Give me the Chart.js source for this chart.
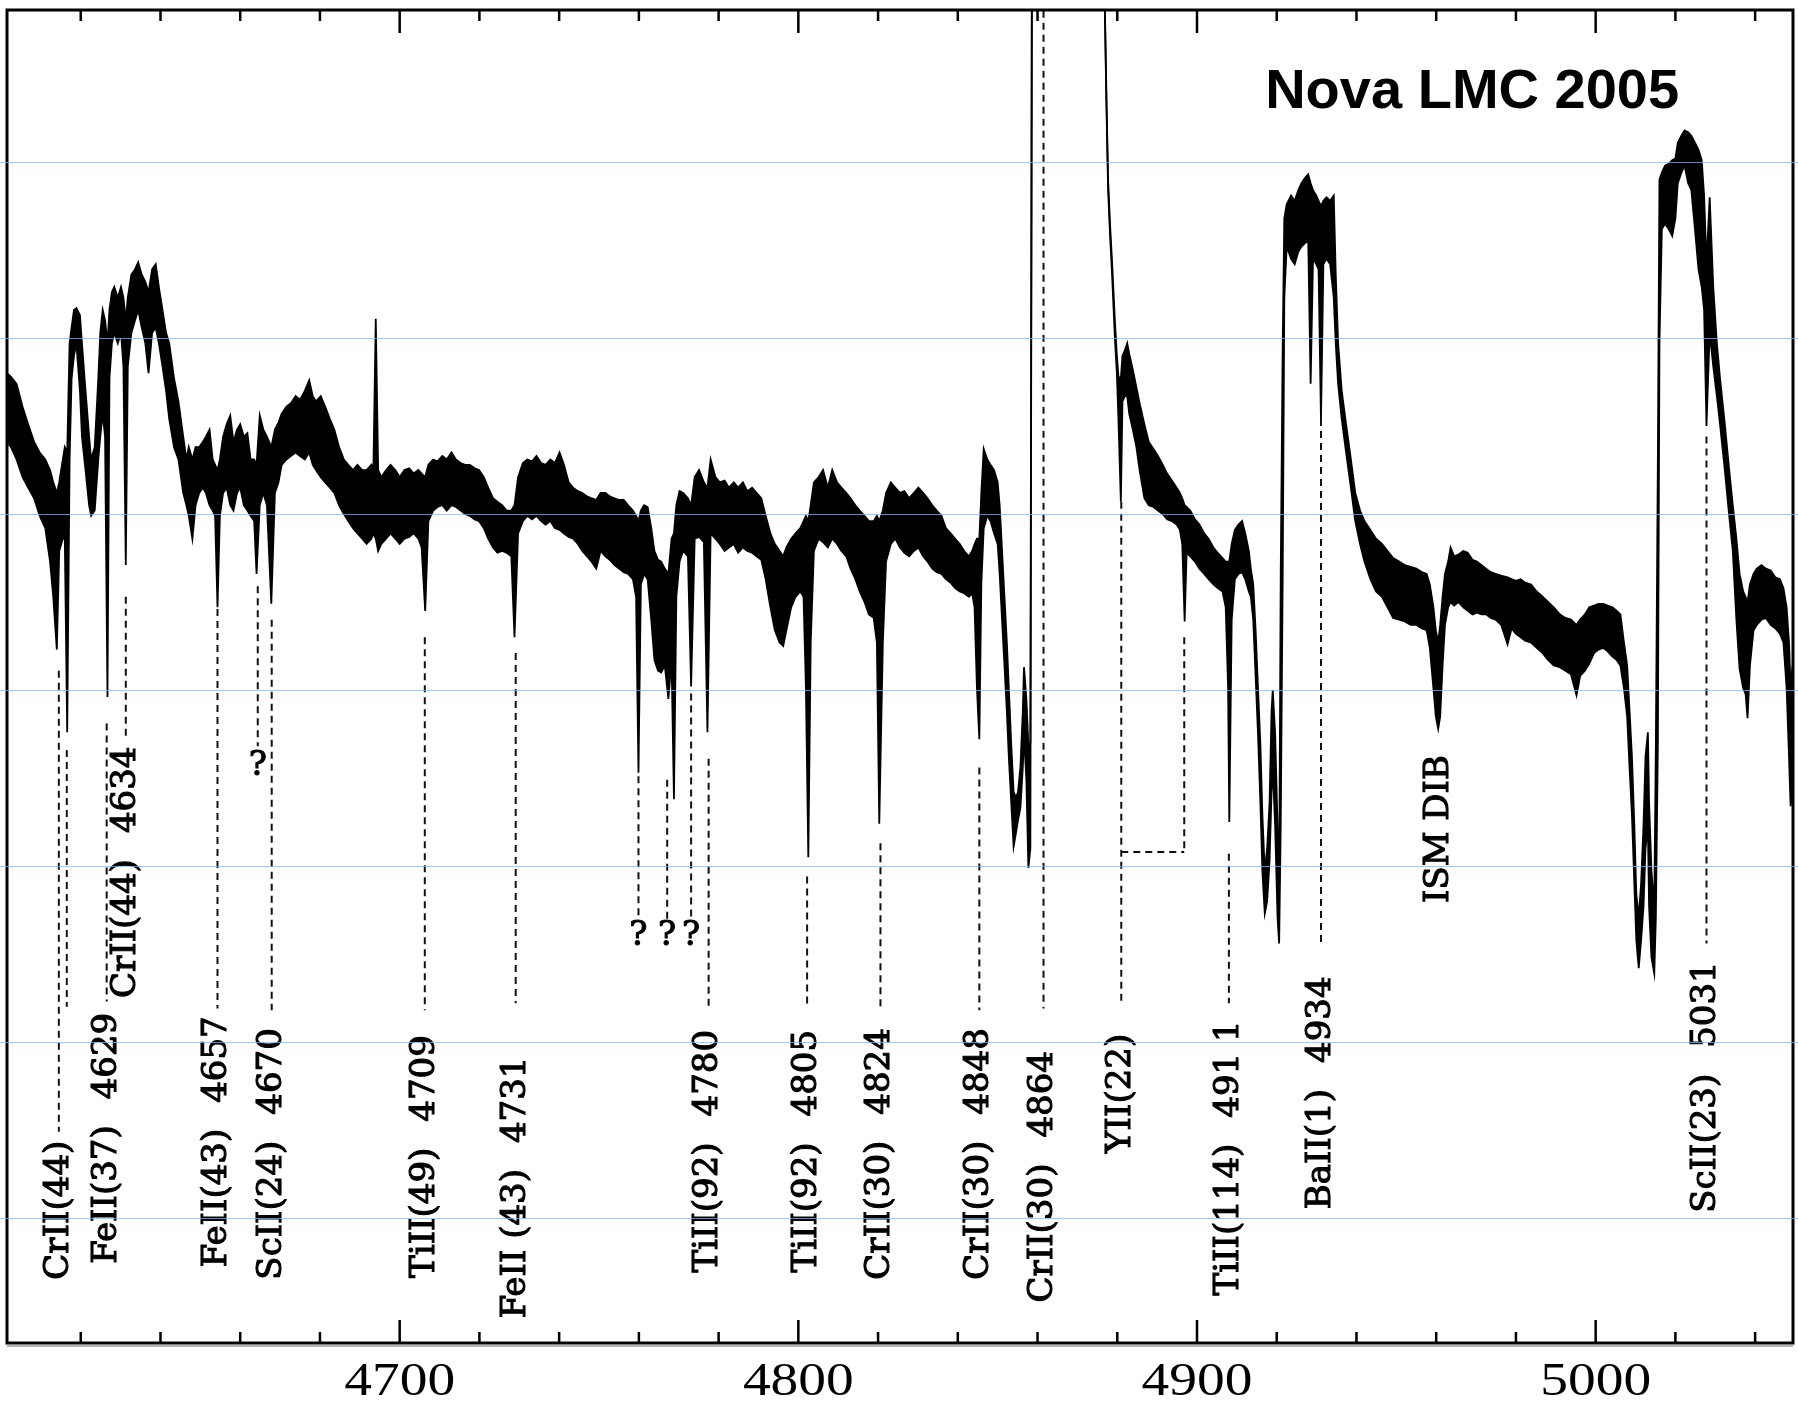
<!DOCTYPE html>
<html lang="en">
<head>
    <meta charset="UTF-8">
    <title>Nova LMC 2005</title>
    <script src="https://cdn.jsdelivr.net/npm/chart.js"></script>
    <style>
        body {
            margin: 0;
            background: #fff;
        }
        #spectrum {
            display: block;
        }
    </style>
</head>
<body>
<canvas id="spectrum" width="1798" height="1406"></canvas>

<script>
    // spectrum as [wavelength (A), lower edge, upper edge] of the noisy trace
    const specBlue = [
        [4601.5, 54.1, 58.0], [4602.5, 53.8, 57.8], [4603.9, 53.1, 57.4], [4605.4, 52.1, 56.1],
        [4606.8, 51.5, 55.1], [4608.3, 50.9, 54.1], [4609.7, 49.9, 53.5], [4611.1, 49.2, 53.1],
        [4612.3, 47.3, 52.5], [4613.1, 45.3, 51.8], [4614.0, 42.3, 51.2], [4614.6, 47.9, 51.8],
        [4615.5, 48.6, 53.1], [4616.0, 48.6, 53.8], [4616.6, 37.6, 53.5], [4617.2, 53.1, 59.7],
        [4617.7, 57.7, 60.6], [4618.3, 59.0, 61.6], [4618.9, 59.7, 61.7], [4619.8, 57.0, 61.3],
        [4620.3, 54.4, 59.7], [4621.2, 52.5, 57.0], [4622.1, 50.5, 54.4], [4622.6, 49.9, 53.1],
        [4623.5, 50.2, 53.8], [4624.4, 53.1, 57.7], [4624.9, 54.4, 60.3], [4625.5, 55.7, 61.6],
        [4626.1, 54.4, 61.0], [4626.7, 39.6, 59.7], [4627.2, 57.7, 61.6], [4627.8, 59.7, 62.6],
        [4628.4, 60.3, 62.9], [4629.3, 59.7, 62.3], [4630.1, 60.3, 62.9], [4630.7, 58.4, 62.3],
        [4631.3, 47.1, 61.0], [4631.8, 58.4, 62.3], [4632.7, 60.3, 63.6], [4633.6, 61.0, 63.9],
        [4634.4, 61.6, 64.3], [4635.3, 60.6, 63.6], [4636.2, 59.7, 63.2], [4637.0, 58.0, 62.6],
        [4637.9, 60.3, 63.9], [4638.8, 60.6, 64.2], [4639.6, 59.7, 62.9], [4640.5, 58.4, 61.6],
        [4641.4, 57.0, 60.3], [4642.2, 55.4, 59.7], [4643.4, 53.8, 57.7], [4644.5, 53.1, 56.4],
        [4645.7, 51.2, 54.4], [4646.5, 50.5, 53.1], [4647.1, 49.9, 53.8], [4648.0, 48.6, 53.1],
        [4648.8, 50.5, 53.8], [4649.7, 51.2, 53.8], [4650.6, 51.5, 54.1], [4651.4, 51.2, 54.4],
        [4652.3, 50.5, 54.8], [4653.1, 50.2, 53.1], [4653.7, 49.9, 52.8], [4654.3, 44.7, 52.5],
        [4654.9, 49.9, 53.1], [4655.7, 51.2, 54.4], [4656.6, 51.5, 55.1], [4657.5, 50.5, 55.6],
        [4658.3, 50.2, 54.1], [4659.2, 51.2, 54.8], [4660.0, 51.5, 55.1], [4660.9, 50.5, 54.4],
        [4661.8, 50.2, 54.6], [4662.6, 49.9, 53.1], [4663.5, 49.6, 53.1], [4664.1, 46.6, 52.8],
        [4664.9, 50.5, 55.6], [4665.8, 51.2, 54.8], [4666.7, 50.5, 54.4], [4667.8, 44.9, 53.8],
        [4668.7, 51.2, 54.8], [4669.6, 51.8, 55.2]
    ];
    const specMid = [
        [4670.4, 52.8, 55.7], [4671.6, 53.1, 56.1], [4672.7, 53.3, 56.3], [4673.9, 53.5, 56.7],
        [4675.0, 53.3, 56.5], [4676.2, 53.1, 57.0], [4677.3, 53.5, 57.6], [4678.2, 52.8, 56.7],
        [4679.0, 52.5, 56.4], [4680.2, 52.1, 56.7], [4681.3, 51.8, 56.1], [4682.5, 51.5, 55.4],
        [4683.6, 51.2, 54.8], [4684.8, 50.5, 53.8], [4686.0, 50.0, 53.1], [4687.1, 49.6, 52.8],
        [4688.3, 49.2, 52.5], [4689.4, 48.9, 52.8], [4690.6, 48.6, 52.5], [4691.7, 48.3, 52.5],
        [4692.9, 48.6, 52.8], [4693.4, 48.9, 52.5], [4694.0, 48.6, 61.1], [4694.6, 47.9, 52.5],
        [4695.4, 48.3, 52.1], [4696.6, 48.6, 52.5], [4697.7, 48.9, 52.8], [4698.9, 48.6, 52.5],
        [4700.0, 48.3, 52.1], [4701.2, 48.6, 52.5], [4702.4, 48.7, 52.6], [4703.5, 48.9, 52.3],
        [4704.7, 48.6, 52.5], [4705.5, 48.1, 52.3], [4706.4, 44.5, 52.1], [4707.2, 49.6, 52.8],
        [4708.4, 50.2, 53.1], [4709.5, 50.4, 53.0], [4710.7, 50.5, 53.3], [4711.8, 50.2, 53.1],
        [4713.0, 50.5, 53.5], [4714.1, 50.4, 53.1], [4715.3, 50.2, 52.9], [4716.4, 50.0, 52.8],
        [4717.6, 49.9, 52.8], [4718.8, 49.7, 52.6], [4719.9, 49.6, 52.5], [4721.1, 49.2, 52.1],
        [4722.2, 48.6, 51.5], [4723.4, 48.1, 50.9], [4724.5, 47.8, 50.7], [4725.7, 47.9, 50.5],
        [4726.8, 47.8, 50.2], [4728.0, 47.6, 50.2], [4728.8, 43.0, 50.5], [4729.7, 48.9, 52.1],
        [4730.9, 49.6, 52.9], [4732.0, 49.9, 53.1], [4733.2, 49.7, 53.0], [4734.3, 49.9, 53.3],
        [4735.5, 49.6, 52.9], [4736.6, 49.4, 52.8], [4737.8, 49.6, 53.1], [4738.9, 49.2, 52.9],
        [4740.1, 49.1, 53.5], [4741.2, 48.9, 52.8], [4742.4, 48.7, 51.8], [4743.5, 48.6, 51.5],
        [4744.7, 48.3, 51.3], [4745.8, 47.9, 51.2], [4747.0, 47.6, 51.0], [4748.1, 47.3, 50.9],
        [4749.3, 46.9, 50.8]
    ];
    const specRed = [
        [4750.4, 47.9, 51.2], [4751.6, 47.6, 51.2], [4752.7, 47.4, 51.0], [4753.9, 47.1, 50.9],
        [4755.0, 46.9, 50.8], [4756.2, 46.7, 50.8], [4757.3, 46.6, 50.5], [4758.5, 46.3, 50.2],
        [4759.3, 45.3, 49.9], [4759.9, 35.3, 49.6], [4760.5, 46.0, 50.2], [4761.3, 46.6, 50.5],
        [4762.2, 46.3, 50.4], [4763.1, 44.0, 49.2], [4763.9, 41.7, 47.9], [4764.8, 41.1, 47.4],
        [4765.6, 41.0, 47.3], [4766.5, 41.4, 46.9], [4767.4, 39.5, 46.6], [4768.2, 41.7, 48.6],
        [4768.8, 33.8, 48.9], [4769.4, 45.3, 50.5], [4770.2, 47.3, 51.3], [4771.1, 47.9, 51.2],
        [4772.3, 47.6, 50.9], [4773.1, 40.2, 50.5], [4774.0, 48.6, 52.1], [4775.1, 48.7, 52.5],
        [4776.3, 48.4, 51.8], [4777.2, 37.6, 51.5], [4778.0, 48.9, 53.1], [4779.2, 48.6, 52.1],
        [4780.3, 48.3, 51.8], [4781.5, 47.9, 51.9], [4782.6, 48.1, 51.5], [4783.8, 48.3, 51.8],
        [4784.9, 47.8, 51.5], [4786.1, 48.1, 51.8], [4787.2, 47.9, 51.3], [4788.4, 47.8, 51.5],
        [4789.5, 47.6, 51.2], [4790.7, 47.4, 50.9], [4791.8, 46.3, 49.9], [4793.0, 44.7, 48.9],
        [4794.1, 43.4, 48.3], [4795.3, 42.7, 47.9], [4796.2, 42.5, 47.6], [4797.0, 43.4, 48.1],
        [4798.2, 44.7, 48.6], [4799.3, 45.3, 48.9], [4800.5, 45.6, 49.2], [4801.3, 45.3, 49.6],
        [4801.9, 40.1, 49.9], [4802.5, 30.5, 49.6], [4803.1, 42.7, 50.5], [4803.9, 47.9, 51.8],
        [4805.1, 48.6, 52.1], [4806.2, 48.4, 52.5], [4807.4, 48.1, 51.5], [4808.5, 48.6, 52.5],
        [4809.7, 48.3, 51.8], [4810.8, 47.9, 51.5], [4812.0, 47.6, 51.2], [4813.1, 46.9, 50.9],
        [4814.3, 46.3, 50.5], [4815.4, 45.6, 50.2], [4816.6, 45.0, 49.9], [4817.7, 44.3, 49.6],
        [4818.9, 44.1, 49.6], [4819.7, 42.7, 49.9], [4820.3, 32.4, 49.6], [4821.2, 42.7, 50.2],
        [4822.0, 47.3, 51.2], [4823.2, 48.3, 51.8], [4824.3, 48.6, 51.5], [4825.5, 48.1, 51.2],
        [4826.6, 47.8, 51.3], [4827.8, 47.6, 50.9], [4829.0, 47.9, 51.2], [4830.1, 48.1, 51.5],
        [4831.3, 47.6, 51.2], [4832.4, 47.3, 50.9], [4833.6, 46.9, 50.5], [4834.7, 46.7, 50.2],
        [4835.9, 46.6, 49.9], [4837.0, 46.3, 49.2], [4838.2, 46.1, 48.9], [4839.3, 45.8, 48.6],
        [4840.5, 45.6, 48.3], [4841.6, 45.5, 47.9], [4842.8, 45.3, 47.6], [4843.6, 45.5, 47.9],
        [4844.2, 44.7, 48.3], [4844.8, 40.1, 48.6], [4845.4, 37.2, 48.6], [4845.9, 46.0, 51.2],
        [4846.5, 49.2, 53.7], [4847.4, 49.9, 53.1], [4848.2, 49.6, 52.8], [4849.1, 48.9, 52.5],
        [4850.0, 48.3, 51.8], [4850.5, 46.6, 50.5], [4851.1, 44.0, 47.9], [4851.7, 41.4, 45.3],
        [4852.3, 38.8, 42.7], [4852.8, 36.2, 40.1], [4853.4, 33.6, 36.9], [4854.0, 31.1, 34.2],
        [4854.6, 31.9, 33.9], [4855.1, 32.6, 34.2], [4855.7, 33.3, 35.6], [4856.3, 35.6, 38.8],
        [4856.6, 37.5, 41.3], [4857.2, 34.9, 39.5], [4857.7, 29.9, 36.9], [4858.2, 31.0, 37.0]
    ];
    // H-beta core runs off the top of the frame
    const specHbeta = [
        [4858.7, 95, 95], [4868.0, 95, 95], [4876.6, 95, 95],
        [4876.9, 78.4, 78.6], [4877.3, 73.0, 73.5], [4877.7, 68.4, 69.0], [4878.2, 65.8, 66.4],
        [4878.7, 63.6, 64.3], [4879.4, 60.0, 61.0], [4879.9, 58.0, 59.0], [4880.3, 55.3, 57.8],
        [4880.9, 50.7, 57.7], [4881.3, 56.4, 59.0], [4881.9, 56.7, 59.3], [4882.5, 56.7, 59.7],
        [4883.0, 55.7, 59.1], [4883.9, 54.8, 58.2], [4884.8, 53.8, 57.2], [4885.6, 52.5, 56.3],
        [4886.8, 50.9, 55.1], [4887.9, 50.5, 54.1], [4889.1, 50.4, 53.7], [4890.2, 50.2, 53.3],
        [4891.4, 50.0, 52.8], [4892.5, 49.7, 52.3], [4893.7, 49.6, 51.9], [4894.9, 49.4, 51.5],
        [4895.7, 49.1, 51.2], [4896.3, 48.3, 50.9], [4896.9, 43.9, 50.5], [4897.4, 47.8, 50.4],
        [4898.3, 47.6, 50.2], [4899.5, 47.3, 49.7], [4900.6, 46.9, 49.4], [4901.8, 46.6, 48.9],
        [4902.9, 46.3, 48.6], [4904.1, 46.0, 48.1], [4905.2, 45.8, 47.8], [4906.4, 45.6, 47.5],
        [4907.2, 44.7, 47.3], [4907.8, 40.1, 47.3], [4908.1, 32.5, 47.3], [4908.7, 44.0, 48.3],
        [4909.5, 46.3, 49.1], [4910.4, 46.6, 49.4], [4911.3, 46.7, 49.6], [4912.1, 46.3, 48.9],
        [4913.0, 45.6, 47.9], [4913.5, 45.3, 46.9], [4914.1, 44.0, 46.0], [4914.7, 40.8, 43.4],
        [4915.3, 37.5, 40.1], [4915.9, 33.6, 36.9], [4916.4, 29.7, 32.9], [4917.0, 27.3, 29.7],
        [4917.6, 28.0, 31.0], [4918.2, 30.3, 33.6], [4918.7, 34.2, 38.8], [4919.0, 35.6, 40.0],
        [4919.6, 32.3, 37.5], [4920.2, 27.1, 32.3], [4920.6, 25.6, 28.4], [4921.0, 32.3, 46.6],
        [4921.5, 46.6, 59.7]
    ];
    const specBaII = [
        [4921.9, 62.3, 66.8], [4922.5, 65.2, 67.6], [4923.6, 64.5, 68.1], [4924.5, 64.2, 67.8],
        [4925.4, 64.9, 68.4], [4926.2, 65.2, 68.8], [4927.1, 65.4, 69.1], [4927.9, 65.5, 69.3],
        [4928.5, 57.4, 68.8], [4929.1, 64.5, 68.4], [4929.9, 64.2, 68.1], [4930.5, 63.9, 67.8],
        [4931.1, 55.3, 67.5], [4931.7, 64.2, 67.8], [4932.5, 64.5, 68.0], [4933.4, 64.2, 67.8],
        [4934.3, 62.3, 68.1], [4934.8, 59.7, 63.6], [4935.4, 57.4, 59.7], [4936.3, 55.4, 57.0],
        [4937.4, 53.5, 55.1], [4938.6, 51.5, 53.1], [4939.7, 49.6, 51.2], [4940.9, 48.3, 50.2],
        [4942.0, 47.3, 49.6], [4943.5, 46.3, 49.1], [4944.9, 45.6, 48.6], [4946.4, 45.3, 48.3],
        [4947.8, 44.7, 47.9], [4949.2, 44.1, 47.5], [4950.7, 44.0, 47.3], [4952.1, 43.9, 47.1],
        [4953.6, 43.7, 47.0], [4955.0, 43.7, 46.9], [4956.4, 43.5, 46.7], [4957.6, 43.4, 46.6],
        [4958.4, 42.4, 46.0], [4959.3, 40.1, 44.7], [4959.9, 38.5, 43.4], [4960.5, 37.8, 42.7],
        [4961.0, 38.5, 43.7], [4961.6, 41.4, 45.3], [4962.2, 43.7, 46.6], [4963.0, 44.7, 47.3],
        [4963.6, 45.0, 48.1], [4964.5, 44.8, 47.6], [4965.6, 45.0, 47.7], [4966.8, 44.7, 47.9],
        [4967.9, 44.5, 47.8], [4969.1, 44.3, 47.4], [4970.2, 44.4, 47.3], [4971.4, 44.3, 47.1],
        [4972.5, 44.3, 46.9], [4973.7, 44.1, 46.7], [4974.9, 44.0, 46.6], [4976.3, 43.7, 46.5],
        [4977.9, 42.6, 46.4], [4978.9, 43.5, 46.3], [4980.0, 43.2, 46.2], [4981.2, 43.0, 46.3],
        [4982.3, 42.8, 46.1], [4983.8, 42.7, 46.0], [4985.2, 42.4, 45.6], [4986.7, 42.1, 45.3],
        [4988.1, 41.7, 45.0], [4989.5, 41.4, 44.7], [4991.0, 41.3, 44.3], [4992.4, 41.1, 44.1],
        [4993.8, 40.9, 44.0], [4995.2, 39.7, 43.7], [4996.1, 40.8, 44.0], [4997.3, 41.1, 44.3],
        [4998.4, 41.5, 44.7], [4999.6, 42.1, 44.8], [5000.7, 42.3, 44.9], [5001.9, 42.4, 44.9],
        [5003.0, 42.2, 44.8], [5004.2, 41.9, 44.7], [5005.3, 41.7, 44.5], [5006.2, 41.4, 44.3],
        [5007.1, 40.1, 42.7], [5007.9, 38.5, 41.4], [5008.5, 35.6, 38.8], [5009.1, 32.9, 36.2],
        [5009.7, 29.0, 32.3], [5010.2, 25.8, 28.4], [5010.8, 24.2, 27.1], [5011.4, 25.8, 29.0],
        [5012.0, 27.7, 32.3], [5012.5, 31.0, 36.2], [5013.1, 32.3, 37.6], [5013.4, 27.7, 33.6],
        [5014.0, 24.8, 29.7], [5014.7, 23.9, 27.7], [5015.1, 27.1, 36.9], [5015.6, 36.9, 53.1]
    ];
    const specScII = [
        [5016.0, 59.7, 69.0], [5016.6, 66.2, 69.4], [5017.4, 66.5, 69.8], [5018.3, 66.2, 69.9],
        [5019.2, 65.8, 70.1], [5020.0, 66.8, 70.2], [5020.6, 68.8, 71.1], [5021.5, 69.4, 71.5],
        [5022.3, 69.8, 71.8], [5023.2, 68.8, 71.7], [5024.0, 68.4, 71.5], [5024.9, 66.2, 71.1],
        [5025.8, 63.9, 70.7], [5026.6, 62.9, 70.1], [5027.2, 61.6, 68.1], [5027.8, 55.0, 64.2],
        [5028.6, 60.3, 68.0], [5029.5, 58.4, 62.9], [5030.4, 56.7, 59.7], [5031.2, 55.1, 57.7],
        [5032.4, 52.5, 55.1], [5033.5, 49.9, 52.5], [5034.4, 47.9, 50.5], [5035.3, 44.0, 48.6],
        [5036.1, 41.2, 46.6], [5037.0, 40.1, 45.6], [5037.6, 39.8, 45.3], [5038.1, 38.4, 45.0],
        [5038.7, 41.4, 46.0], [5039.6, 43.4, 46.6], [5040.4, 43.7, 46.9], [5041.6, 44.0, 47.1],
        [5042.7, 44.1, 46.9], [5043.9, 43.7, 46.8], [5045.1, 43.5, 46.4], [5046.2, 43.2, 46.3],
        [5047.1, 42.7, 45.8], [5047.9, 40.1, 44.7], [5048.5, 36.2, 42.7], [5048.9, 33.4, 40.1],
        [5049.4, 34.2, 41.4]
    ];

    // line identifications: [wavelength, top, bottom] of each dashed marker
    const idLines = [
        [4614.5, 41.1, 14.9], [4616.5, 36.6, 22.0], [4626.5, 38.1, 22.3], [4631.3, 45.3, 37.4],
        [4654.3, 44.6, 21.9], [4664.4, 45.9, 36.8], [4667.9, 44.0, 21.8], [4706.3, 43.0, 21.8],
        [4729.1, 42.1, 22.2], [4759.9, 35.1, 26.9], [4767.1, 34.9, 26.9], [4773.1, 39.8, 26.9],
        [4777.5, 36.1, 21.8], [4802.2, 29.4, 22.0], [4820.6, 31.3, 22.0], [4845.4, 35.6, 21.8],
        [4861.5, 78.6, 21.9], [4881.0, 50.7, 22.2], [4896.8, 43.0, 30.8], [4908.0, 30.7, 22.2],
        [4931.1, 55.4, 25.5], [5027.8, 54.4, 25.6]
    ];
    // YII(22) bracket: [from, to, level]
    const idBracket = [4881.0, 4896.8, 30.8];
    // rotated labels: [wavelength, level where text starts, ion, rest wavelength]
    const lineLabels = [
        [4614.5, 6.5, 'CrII(44)', ''],
        [4626.6, 7.4, 'FeII(37)', '4629'],
        [4631.3, 22.5, 'CrII(44)', '4634'],
        [4654.3, 7.2, 'FeII(43)', '4657'],
        [4667.9, 6.5, 'ScII(24)', '4670'],
        [4706.3, 6.6, 'TiII(49)', '4709'],
        [4729.1, 4.3, 'FeII (43)', '4731'],
        [4777.5, 6.9, 'TiII(92)', '4780'],
        [4802.2, 6.9, 'TiII(92)', '4805'],
        [4820.6, 6.5, 'CrII(30)', '4824'],
        [4845.4, 6.5, 'CrII(30)', '4848'],
        [4861.5, 5.2, 'CrII(30)', '4864'],
        [4881.0, 13.7, 'YII(22)', ''],
        [4908.0, 5.6, 'TiII(114)', '491 1'],
        [4931.1, 10.5, 'BaII(1)', '4934'],
        [4960.7, 27.9, 'ISM DIB', ''],
        [5027.8, 10.3, 'ScII(23)', '5031']
    ];
    const unknownMarks = [[4664.4, 35.7], [4759.9, 26.0], [4767.1, 26.0], [4773.1, 26.0]];
    const titleText = [4917.1, 73.1, 'Nova LMC 2005'];

    const majorTicks = [4700, 4800, 4900, 5000];
    const tickLabels = ['4700', '4800', '4900', '5000'];
    const minorTicks = [4620, 4640, 4660, 4680, 4720, 4740, 4760, 4780, 4820, 4840, 4860, 4880,
        4920, 4940, 4960, 4980, 5020, 5040];
    const gridLevels = [10, 20, 30, 40, 50, 60, 70];

    const spectrum = [...specBlue, ...specMid, ...specRed, ...specHbeta, ...specBaII, ...specScII];

    const labelFont = '34px "DejaVu Serif"';
    const labelGap = 26;

    function inkText(ctx, text, px, py) {
        ctx.fillText(text, px, py);
        ctx.strokeText(text, px, py);
    }

    const novaPlugin = {
        id: 'nova',
        afterDatasetsDraw(chart) {
            const {ctx, chartArea: a, scales: {x, y}} = chart;
            ctx.save();

            // dashed identification markers
            ctx.strokeStyle = '#111';
            ctx.lineWidth = 2;
            ctx.setLineDash([7, 5]);
            idLines.forEach(([w, top, bottom]) => {
                const px = x.getPixelForValue(w);
                ctx.beginPath();
                ctx.moveTo(px, y.getPixelForValue(top));
                ctx.lineTo(px, y.getPixelForValue(bottom));
                ctx.stroke();
            });
            ctx.beginPath();
            ctx.moveTo(x.getPixelForValue(idBracket[0]), y.getPixelForValue(idBracket[2]));
            ctx.lineTo(x.getPixelForValue(idBracket[1]), y.getPixelForValue(idBracket[2]));
            ctx.stroke();
            ctx.setLineDash([]);

            // frame
            ctx.strokeStyle = '#000';
            ctx.lineWidth = 3;
            ctx.strokeRect(a.left, a.top, a.width, a.height);
            ctx.strokeStyle = '#9a9a9a';
            ctx.lineWidth = 1.5;
            ctx.beginPath();
            ctx.moveTo(a.left, a.bottom + 3);
            ctx.lineTo(a.right, a.bottom + 3);
            ctx.stroke();

            // inward ticks on top and bottom
            ctx.strokeStyle = '#000';
            ctx.lineWidth = 2.5;
            const tick = (w, len) => {
                const px = x.getPixelForValue(w);
                ctx.beginPath();
                ctx.moveTo(px, a.bottom);
                ctx.lineTo(px, a.bottom - len);
                ctx.moveTo(px, a.top);
                ctx.lineTo(px, a.top + len);
                ctx.stroke();
            };
            minorTicks.forEach(w => tick(w, 11));
            majorTicks.forEach(w => tick(w, 23));

            // tick labels
            ctx.fillStyle = '#000';
            ctx.font = '47px "Liberation Serif"';
            ctx.textAlign = 'center';
            ctx.textBaseline = 'alphabetic';
            majorTicks.forEach((w, i) => {
                ctx.save();
                ctx.translate(x.getPixelForValue(w), a.bottom + 52);
                ctx.scale(1.18, 1);
                ctx.fillText(tickLabels[i], 0, 0);
                ctx.restore();
            });

            // rotated identifications
            ctx.font = labelFont;
            ctx.strokeStyle = '#000';
            ctx.lineWidth = 1.1;
            ctx.textAlign = 'left';
            ctx.textBaseline = 'middle';
            lineLabels.forEach(([w, level, ion, rest]) => {
                ctx.save();
                ctx.translate(x.getPixelForValue(w), y.getPixelForValue(level));
                ctx.rotate(-Math.PI / 2);
                inkText(ctx, ion, 0, 0);
                if (rest) {
                    inkText(ctx, rest, ctx.measureText(ion).width + labelGap, 0);
                }
                ctx.restore();
            });

            ctx.textAlign = 'center';
            unknownMarks.forEach(([w, level]) => {
                inkText(ctx, '?', x.getPixelForValue(w), y.getPixelForValue(level));
            });

            // title
            ctx.font = 'bold 56px "Liberation Sans"';
            ctx.textAlign = 'left';
            ctx.textBaseline = 'alphabetic';
            ctx.fillText(titleText[2], x.getPixelForValue(titleText[0]), y.getPixelForValue(titleText[1]));

            ctx.restore();
        },
        afterDraw(chart) {
            // faint horizontal rules across the whole sheet
            const {ctx, width, scales: {y}} = chart;
            ctx.save();
            ctx.strokeStyle = 'rgba(150, 175, 225, 0.75)';
            ctx.lineWidth = 1.2;
            gridLevels.forEach(v => {
                const py = Math.round(y.getPixelForValue(v)) + 0.5;
                ctx.beginPath();
                ctx.moveTo(0, py);
                ctx.lineTo(width, py);
                ctx.stroke();
            });
            ctx.restore();
        }
    };

    new Chart(document.getElementById('spectrum'), {
        type: 'line',
        data: {
            datasets: [
                {
                    label: 'upper',
                    data: spectrum.map(p => ({x: p[0], y: p[2]})),
                    borderColor: '#000',
                    backgroundColor: '#000',
                    borderWidth: 1.8,
                    pointRadius: 0,
                    tension: 0,
                    fill: '+1'
                },
                {
                    label: 'lower',
                    data: spectrum.map(p => ({x: p[0], y: p[1]})),
                    borderColor: '#000',
                    borderWidth: 1.8,
                    pointRadius: 0,
                    tension: 0,
                    fill: false
                }
            ]
        },
        options: {
            responsive: false,
            animation: false,
            events: [],
            layout: {padding: {top: 10, left: 7, right: 5, bottom: 63}},
            plugins: {
                legend: {display: false},
                tooltip: {enabled: false}
            },
            scales: {
                x: {type: 'linear', min: 4601.5, max: 5049.5, display: false},
                y: {type: 'linear', min: 2.9, max: 78.64, display: false}
            }
        },
        plugins: [novaPlugin]
    });
</script>
</body>
</html>
